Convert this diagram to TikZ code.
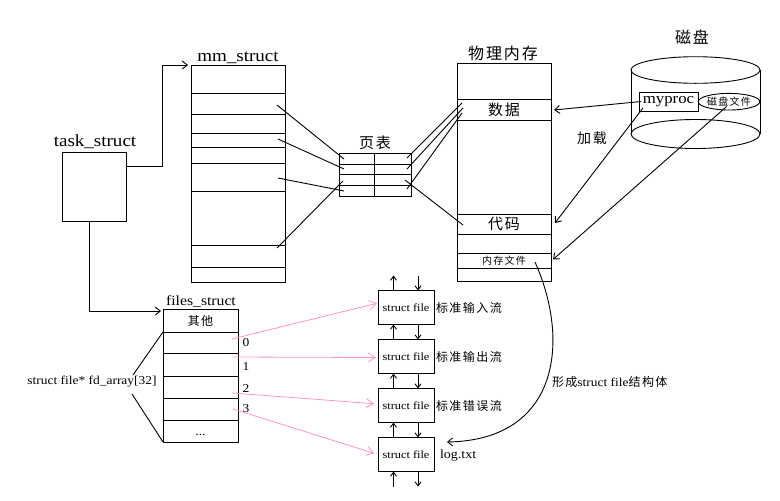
\documentclass[tikz,border=0pt]{standalone}
\usepackage{fontspec}
\setmainfont{Liberation Serif}[FakeStretch=1.12]
\newfontfamily\cjk{Noto Sans CJK SC}[LetterSpace=12]
\usetikzlibrary{arrows.meta,calc,shapes.geometric}
\definecolor{pinkline}{RGB}{255,150,190}
\newcommand{\fs}[1]{\fontsize{#1}{#1}\selectfont}
\begin{document}
\begin{tikzpicture}[x=1pt,y=-1pt, line width=0.9pt,
  cell/.style={draw, inner sep=0pt, outer sep=0pt},
  lbl/.style={inner sep=0pt, outer sep=0pt},
  arr/.style={-{Straight Barb[length=5pt,width=8pt]}},
  varr/.style={-{Straight Barb[length=4pt,width=6pt]}},
  parr/.style={draw=pinkline, line width=0.8pt, -{Straight Barb[length=7pt,width=9pt]}}]
\path[use as bounding box] (0,0) rectangle (780,501);

% task_struct
\node[cell, minimum width=64pt, minimum height=69pt] (task) at (94,186.5) {};
\node[lbl, anchor=base] (tasklbl) at (95,146) {\fs{17}task\_struct};

% mm_struct
\node[cell, minimum width=94pt, minimum height=217pt] (mm) at (238,173.5) {};
\foreach \y in {93,114,133,147,163,191,245,267} \draw (191,\y) -- (285,\y);
\node[lbl, anchor=base] (mmlbl) at (238,61) {\fs{17}mm\_struct};

\draw[arr, shorten >=3pt] ([yshift=20.5pt]task.east) -- ++(36,0) |- (mm.north west);

% files_struct
\node[cell, minimum width=75pt, minimum height=133pt] (files) at (200.5,375.5) {};
\foreach \y in {332,353,376,398,420} \draw (163,\y) -- (238,\y);
\node[lbl] (other) at (200.5,321) {\cjk\fs{12}其他};
\node[lbl, anchor=base] (dots) at (200.5,435) {\fs{12}...};
\node[lbl, anchor=base] (flbl) at (201,305) {\fs{14}files\_struct};
\node[lbl] (n0) at (246,343) {\fs{12}0};
\node[lbl] (n1) at (246,367) {\fs{12}1};
\node[lbl] (n2) at (246,389) {\fs{12}2};
\node[lbl] (n3) at (246,409) {\fs{12}3};

\draw[arr, shorten >=2pt] ([xshift=-5pt]task.south) |- ([yshift=-2pt]files.north west);

% fd_array label
\node[lbl] (fdlbl) at (92,382) {\fs{12}struct file* fd\_array[32]};
\coordinate (fa) at (133,375);
\coordinate (fb) at (132,394);
\coordinate (frow1) at (163,332);
\draw (fa) -- (frow1);
\draw (fb) -- (files.south west);

% page table
\node[cell, minimum width=72pt, minimum height=43pt] (pt) at (375,174.5) {};
\foreach \y in {164,174.5,185.5} \draw (339,\y) -- (411,\y);
\draw (374.5,153) -- (374.5,196);
\node[lbl] (ptlbl) at (375,142.5) {\cjk\fs{15}页表};

% physical memory
\node[cell, minimum width=94pt, minimum height=218pt] (pm) at (504,172) {};
\node[cell, minimum width=94pt, minimum height=21pt] (data) at (504,109.5) {\cjk\fs{15}数据};
\node[cell, minimum width=94pt, minimum height=20pt] (code) at (504,224) {\cjk\fs{15}代码};
\node[cell, minimum width=94pt, minimum height=15pt] (memf) at (504,260.5) {\cjk\fs{10}内存文件};
\node[lbl] (pmlbl) at (503,53) {\cjk\fs{16}物理内存};

% mm -> page table -> memory
\coordinate (m1) at (277,105);
\coordinate (m2) at (278,139);
\coordinate (m3) at (278,178);
\coordinate (m4) at (277,248);
\coordinate (p1l) at (344,159);
\coordinate (p2l) at (344,169);
\coordinate (p3l) at (343,181);
\coordinate (p4l) at (344,191);
\draw (m1) -- (p1l);
\draw (m2) -- (p2l);
\draw (m3) -- (p4l);
\draw (m4) -- (p3l);
\coordinate (p1r) at (407,158);
\coordinate (p2r) at (407,169);
\coordinate (p3r) at (405,180);
\coordinate (p4r) at (407,189);
\coordinate (d1) at (462,103);
\coordinate (d2) at (463,108);
\coordinate (d3) at (462,113);
\coordinate (c1) at (463,225);
\draw (p1r) -- (d1);
\draw (p2r) -- (d2);
\draw (p4r) -- (d3);
\draw (p3r) -- (c1);

% disk
\draw (695.5,70) ellipse [x radius=64.5pt, y radius=13.3pt];
\draw (631,70) -- (631,134);
\draw (760,70) -- (760,134);
\draw (695.5,134) ellipse [x radius=64.5pt, y radius=14.5pt];
\node[lbl] (disklbl) at (692,37) {\cjk\fs{16}磁盘};
\node[cell, minimum width=59pt, minimum height=19pt] (myproc) at (668.5,101.5) {\fs{15}myproc};
\node[draw, ellipse, inner sep=0pt, minimum width=56.6pt, minimum height=16.6pt] (dfile) at (729,101.7) {\cjk\fs{10}磁盘文件};

\draw[arr] ([xshift=2pt]myproc.west) -- ($(data.east)+(3,0.5)$);
\draw[arr] ($(myproc.south west)+(4,-3)$) -- ($(code.east)+(4,-1)$);
\draw[arr] ($(dfile.south)+(-2.3,-4)$) -- ($(memf.east)+(2,-1)$);
\node[lbl] (load) at (592,138) {\cjk\fs{14}加载};

% struct file boxes
\foreach \i/\y in {1/307.5,2/356.5,3/405.5,4/454.5}
  \node[cell, minimum width=56pt, minimum height=34pt] (sf\i) at (406,\y) {\fs{11}struct file};
\draw[varr] ([xshift=-12.5pt]sf1.north) -- ++(0,-15);
\draw[varr] ($(sf1.north)+(12,-15)$) -- ([xshift=12pt]sf1.north);
\foreach \i/\j in {1/2,2/3,3/4} {
  \draw[varr] ([xshift=-12.5pt]sf\j.north) -- ([xshift=-12.5pt]sf\i.south);
  \draw[varr] ([xshift=12pt]sf\i.south) -- ([xshift=12pt]sf\j.north);
}
\draw[varr] ($(sf4.south)+(-12.5,15)$) -- ([xshift=-12.5pt]sf4.south);
\draw[varr] ([xshift=12pt]sf4.south) -- ++(0,15);

\node[lbl, anchor=west] (s1lbl) at ([xshift=2pt]sf1.east) {\cjk\fs{12}标准输入流};
\node[lbl, anchor=west] (s2lbl) at ([xshift=2pt]sf2.east) {\cjk\fs{12}标准输出流};
\node[lbl, anchor=west] (s3lbl) at ([xshift=2pt]sf3.east) {\cjk\fs{12}标准错误流};
\node[lbl, anchor=west] (logtxt) at ([xshift=6pt,yshift=-1pt]sf4.east) {\fs{12.5}log.txt};

% pink fd arrows
\coordinate (f0) at (232,339);
\coordinate (f1) at (232,357);
\coordinate (f2) at (232,393);
\coordinate (f3) at (233,409);
\draw[parr, shorten >=1pt] (f0) -- ([yshift=4.5pt]sf1.west);
\draw[parr, shorten >=2pt] (f1) -- ([yshift=-1pt]sf2.west);
\draw[parr, shorten >=4pt] (f2) -- ([yshift=1.5pt]sf3.west);
\draw[parr, shorten >=4pt] (f3) -- (sf4.west);

% curve from memory file to log.txt
\coordinate (mf) at (535,262);
\coordinate (lt) at (447,442);
\draw[arr] (mf) .. controls (570,340) and (560,440) .. (lt);
\node[lbl, anchor=west] (formlbl) at (552,382) {\cjk\fs{12}形成{\rmfamily\fs{12}struct file}结构体};
\end{tikzpicture}
\end{document}
